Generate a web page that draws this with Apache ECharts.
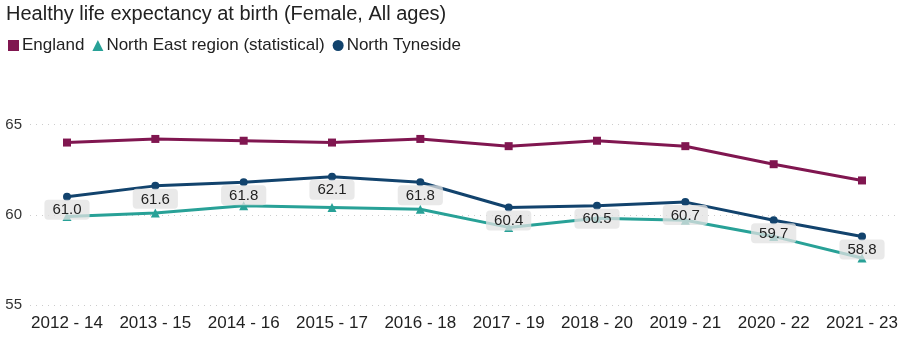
<!DOCTYPE html>
<html>
<head>
<meta charset="utf-8">
<script src="https://cdn.jsdelivr.net/npm/echarts@6/dist/echarts.min.js"></script>
<style>
  html, body { margin: 0; padding: 0; background: #fff; }
</style>
</head>
<body>
<div id="myChart" style="width:905px;height:337px;"></div>
<script>
var periods = ['2012 - 14', '2013 - 15', '2014 - 16', '2015 - 17', '2016 - 18',
  '2017 - 19', '2018 - 20', '2019 - 21', '2020 - 22', '2021 - 23']
var england = [64.0, 64.2, 64.1, 64.0, 64.2, 63.8, 64.1, 63.8, 62.8, 61.9]
var northEast = [59.9, 60.1, 60.5, 60.4, 60.3, 59.3, 59.8, 59.7, 58.8, 57.6]
var northTyneside = [61.0, 61.6, 61.8, 62.1, 61.8, 60.4, 60.5, 60.7, 59.7, 58.8]
var yTicks = [55, 60, 65]

var font = 'Arial, "Liberation Sans", sans-serif'
var myChart = echarts.init(document.getElementById('myChart'))

myChart.setOption({
  animation: false,
  title: {
    text: 'Healthy life expectancy at birth (Female, All ages)',
    left: 1,
    top: -1,
    textStyle: { fontFamily: font, fontSize: 20, fontWeight: 'normal', color: '#222' }
  },
  legend: {
    left: 3,
    top: 32,
    itemWidth: 11,
    itemHeight: 11,
    itemGap: 8,
    textStyle: { fontFamily: font, fontSize: 17, color: '#222', padding: [0, 0, 0, -2] },
    data: [
      { name: 'England', icon: 'rect' },
      { name: 'North East region (statistical)', icon: 'triangle' },
      { name: 'North Tyneside', icon: 'circle' }
    ]
  },
  grid: [
    { left: 67, right: 43, top: 124.5, bottom: 32 },
    { left: 30, right: 10, top: 124.5, bottom: 32 }
  ],
  xAxis: [
    {
      type: 'category',
      gridIndex: 0,
      data: periods,
      boundaryGap: false,
      axisLine: { show: false },
      axisTick: { show: false },
      axisLabel: { interval: 0, hideOverlap: false, fontFamily: font, fontSize: 17, color: '#222', margin: 10 }
    },
    { type: 'value', gridIndex: 1, show: false, min: 0, max: 1 }
  ],
  yAxis: [
    { type: 'value', gridIndex: 0, min: 55, max: 65, interval: 5, show: false },
    {
      type: 'value',
      gridIndex: 1,
      min: yTicks[0],
      max: yTicks[yTicks.length - 1],
      interval: 5,
      axisLine: { show: false },
      axisTick: { show: false },
      axisLabel: { fontFamily: font, fontSize: 15, color: '#333', margin: 8 },
      splitLine: { lineStyle: { color: '#ccc', type: [1, 5], width: 1 } }
    }
  ],
  series: [
    {
      name: 'England',
      type: 'line',
      data: england,
      symbol: 'rect',
      symbolSize: 8,
      color: '#801650',
      lineStyle: { width: 3 }
    },
    {
      name: 'North East region (statistical)',
      type: 'line',
      data: northEast,
      symbol: 'triangle',
      symbolSize: 9,
      color: '#28A197',
      lineStyle: { width: 3 }
    },
    {
      name: 'North Tyneside',
      type: 'line',
      data: northTyneside,
      symbol: 'circle',
      symbolSize: 8,
      color: '#12436D',
      lineStyle: { width: 3 },
      label: {
        show: true,
        position: 'bottom',
        distance: -1,
        fontFamily: font,
        fontSize: 15,
        color: '#222',
        formatter: function (p) { return p.value.toFixed(1) },
        backgroundColor: 'rgba(225,225,225,0.75)',
        borderRadius: 4,
        padding: [3, 8, 2, 8]
      }
    }
  ]
})
</script>
</body>
</html>
